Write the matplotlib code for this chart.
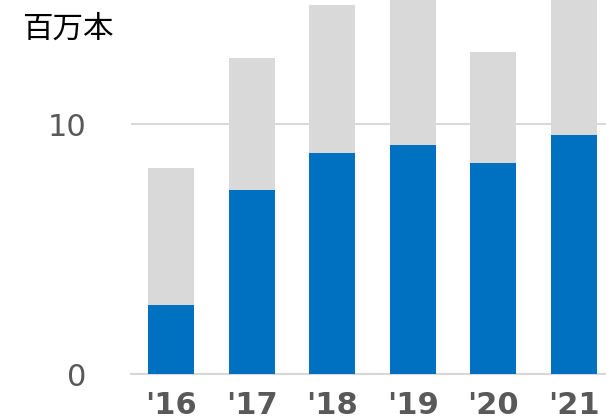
"""
Stacked bar chart: yearly volume (million units), blue share and gray remainder.
"""

import matplotlib
matplotlib.use("Agg")
import matplotlib.pyplot as plt

# Data
YEARS = ["'16", "'17", "'18", "'19", "'20", "'21"]
BLUE_VALUES = [2.78, 7.38, 8.86, 9.18, 8.46, 9.58]
TOTAL_VALUES = [8.26, 12.66, 14.78, 15.6, 12.9, 15.8]
GRAY_VALUES = [t - b for t, b in zip(TOTAL_VALUES, BLUE_VALUES)]
Y_TICKS = [0, 10]
UNIT_LABEL = "百万本"

BLUE = "#0070C0"
GRAY = "#D9D9D9"
TEXT_GRAY = "#595959"


def main():
    fig = plt.figure(figsize=(6.06, 4.18), dpi=100)
    ax = fig.add_axes([131 / 606, 44 / 418, 475 / 606, 374 / 418])

    x = list(range(len(YEARS)))
    ax.bar(x, BLUE_VALUES, width=0.575, color=BLUE, zorder=3)
    ax.bar(x, GRAY_VALUES, width=0.575, bottom=BLUE_VALUES, color=GRAY, zorder=3)

    ax.set_xlim(-0.5, 5.4)
    ax.set_ylim(0, 14.96)

    # Axes styling
    for side in ["top", "right", "left"]:
        ax.spines[side].set_visible(False)
    ax.spines["bottom"].set_color(GRAY)
    ax.spines["bottom"].set_linewidth(1.5)

    ax.set_yticks(Y_TICKS)
    ax.yaxis.grid(True, color=GRAY, linewidth=1.5, zorder=0)
    ax.set_axisbelow(True)
    ax.tick_params(axis="y", length=0, pad=32, labelsize=22, labelcolor=TEXT_GRAY)

    ax.set_xticks(x)
    ax.set_xticklabels(YEARS, fontweight="bold")
    ax.tick_params(axis="x", length=0, pad=12, labelsize=22, labelcolor=TEXT_GRAY)

    # Unit label
    fig.text(22 / 606, 1 - 29 / 418, UNIT_LABEL, fontsize=22, va="center", ha="left",
             family=["Noto Sans CJK JP", "DejaVu Sans"], color="black")

    fig.savefig("out.png", dpi=100)
    plt.close(fig)


if __name__ == "__main__":
    main()
